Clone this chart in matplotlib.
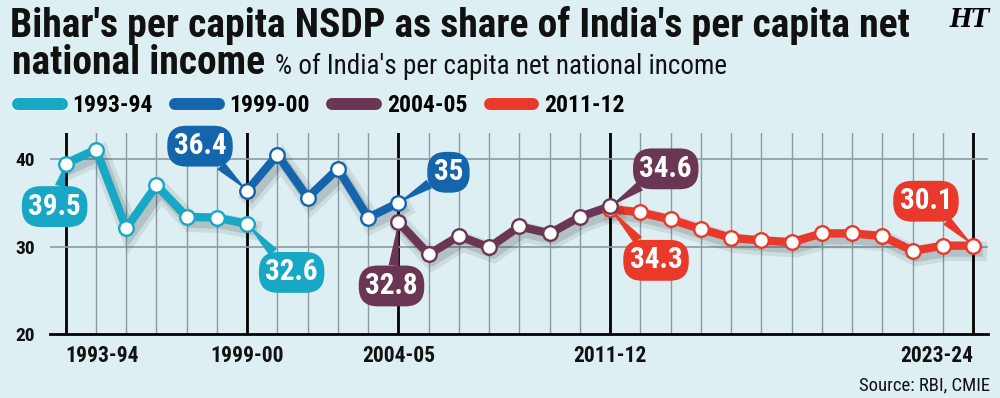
import matplotlib
matplotlib.use("Agg")
import matplotlib.pyplot as plt
import matplotlib.patheffects as pe
from matplotlib.lines import Line2D

# data (Bihar per capita NSDP as % of India's per capita NNI)
years_9394 = [1993, 1994, 1995, 1996, 1997, 1998, 1999]
vals_9394 = [39.5, 41.1, 32.1, 37.0, 33.4, 33.3, 32.6]

years_9900 = [1999, 2000, 2001, 2002, 2003, 2004]
vals_9900 = [36.4, 40.5, 35.6, 38.9, 33.3, 35.0]

years_0405 = [2004, 2005, 2006, 2007, 2008, 2009, 2010, 2011]
vals_0405 = [32.8, 29.1, 31.2, 29.9, 32.3, 31.5, 33.4, 34.6]

years_1112 = [2011, 2012, 2013, 2014, 2015, 2016, 2017, 2018, 2019, 2020, 2021, 2022, 2023]
vals_1112 = [34.3, 33.9, 33.1, 32.0, 31.0, 30.7, 30.5, 31.5, 31.5, 31.2, 29.5, 30.1, 30.1]

series_names = ["1993-94", "1999-00", "2004-05", "2011-12"]
colors = ["#18a7c4", "#1565ad", "#6b3654", "#e8392a"]

tick_years = [1993, 1999, 2004, 2011, 2023]
tick_labels = ["1993-94", "1999-00", "2004-05", "2011-12", "2023-24"]
y_ticks = [20, 30, 40]

BG = "#ddeff2"
NARROW = ["Roboto Condensed", "DejaVu Sans"]
plt.rcParams["font.stretch"] = "condensed"

fig = plt.figure(figsize=(10, 3.98), dpi=100, facecolor=BG)
ax = fig.add_axes([0.05, 0.161, 0.938, 0.505], facecolor=BG)
ax.set_xlim(1992.48, 2023.49)
ax.set_ylim(20, 43)

# grid
for yr in range(1993, 2024):
    if yr in tick_years:
        ax.axvline(yr, color="black", lw=2, zorder=1)
    else:
        ax.axvline(yr, color="#8a9ca2", lw=1, zorder=1)
for y in [30, 40]:
    ax.axhline(y, color="#8a9ca2", lw=1.2, zorder=1)

for s in ["left", "right", "top"]:
    ax.spines[s].set_visible(False)
ax.spines["bottom"].set_linewidth(2)
ax.spines["bottom"].set_zorder(2)

ax.set_xticks(tick_years)
ax.set_xticklabels(tick_labels)
ax.set_yticks(y_ticks)
ax.tick_params(length=0)
ax.tick_params(axis="x", pad=8)
ax.tick_params(axis="y", pad=11)
for lab in ax.get_xticklabels() + ax.get_yticklabels():
    lab.set_family(NARROW)
    lab.set_stretch("condensed")
    lab.set_fontweight("bold")
    lab.set_color("#111111")
for lab in ax.get_xticklabels():
    lab.set_fontsize(15.5)
for lab in ax.get_yticklabels():
    lab.set_fontsize(14)
xt = ax.get_xticklabels()
xt[0].set_horizontalalignment("left")
xt[-1].set_horizontalalignment("right")

shadow = [pe.SimpleLineShadow(offset=(3, -4), shadow_color="black", alpha=0.08, linewidth=14),
          pe.SimpleLineShadow(offset=(3, -4), shadow_color="black", alpha=0.12, linewidth=8),
          pe.Normal()]

all_series = [(years_9394, vals_9394), (years_9900, vals_9900),
              (years_0405, vals_0405), (years_1112, vals_1112)]
zs = [3.3, 3.2, 3.4, 3.1]
for (xs, ys), c, z in zip(all_series, colors, zs):
    ax.plot(xs, ys, color=c, lw=6, solid_joinstyle="miter", zorder=z, path_effects=shadow)
for (xs, ys), c, z in zip(all_series, colors, zs):
    ax.plot(xs, ys, ls="none", marker="o", ms=10.5, mfc="white", mec=c, mew=1.7, zorder=z + 2)


def callout(x, y, color, dx, dy):
    ax.annotate(f"{y:g}", xy=(x, y), xytext=(dx, dy), textcoords="offset points",
                ha="center", va="center", color="white", fontsize=21, fontweight="bold",
                family=NARROW, fontstretch="condensed", zorder=4.5,
                bbox=dict(boxstyle="round,pad=0.22,rounding_size=0.65", fc=color, ec="none"),
                arrowprops=dict(arrowstyle="wedge,tail_width=0.35,shrink_factor=0.5",
                                fc=color, ec="none", shrinkA=0, shrinkB=0))


callout(years_9394[0], vals_9394[0], colors[0], -8, -31)
callout(years_9394[-1], vals_9394[-1], colors[0], 32, -35)
callout(years_9900[0], vals_9900[0], colors[1], -34, 32)
callout(years_9900[-1], vals_9900[-1], colors[1], 36, 22)
callout(years_0405[0], vals_0405[0], colors[2], -5, -46)
callout(years_0405[-1], vals_0405[-1], colors[2], 40, 27)
callout(years_1112[0], vals_1112[0], colors[3], 33, -37)
callout(years_1112[-1], vals_1112[-1], colors[3], -34, 32)

# legend
handles = [Line2D([0], [0], color=c, lw=8.6, solid_capstyle="round") for c in colors]
leg = fig.legend(handles, series_names, loc="center left", bbox_to_anchor=(0.018, 0.734),
                 ncol=4, frameon=False, handlelength=1.85, handletextpad=0.45,
                 columnspacing=0.95, borderpad=0, borderaxespad=0,
                 prop=dict(family=NARROW, weight="bold", size=17, stretch="condensed"))

# titles
fig.text(0.01, 0.907, "Bihar's per capita NSDP as share of India's per capita net",
         family=NARROW, fontweight="bold", fontsize=28.5, va="baseline", color="#111111")
t2 = fig.text(0.012, 0.814, "national income", family=NARROW, fontweight="bold",
              fontsize=28.5, va="baseline", color="#111111")
fig.canvas.draw()
bb = t2.get_window_extent()
fig.text((bb.x1 + 10) / fig.bbox.width, 0.814, "% of India's per capita net national income",
         family=NARROW, fontsize=19.5, va="baseline", color="#111111")

fig.text(0.97, 0.952, "HT", family="DejaVu Serif", fontweight="bold", fontstyle="italic",
         fontsize=19, ha="center", va="center", color="black")
fig.text(0.99, 0.02, "Source: RBI, CMIE", family=NARROW, fontsize=13.5, ha="right",
         va="baseline", color="#111111")

fig.savefig("out.png", dpi=100, facecolor=BG)
